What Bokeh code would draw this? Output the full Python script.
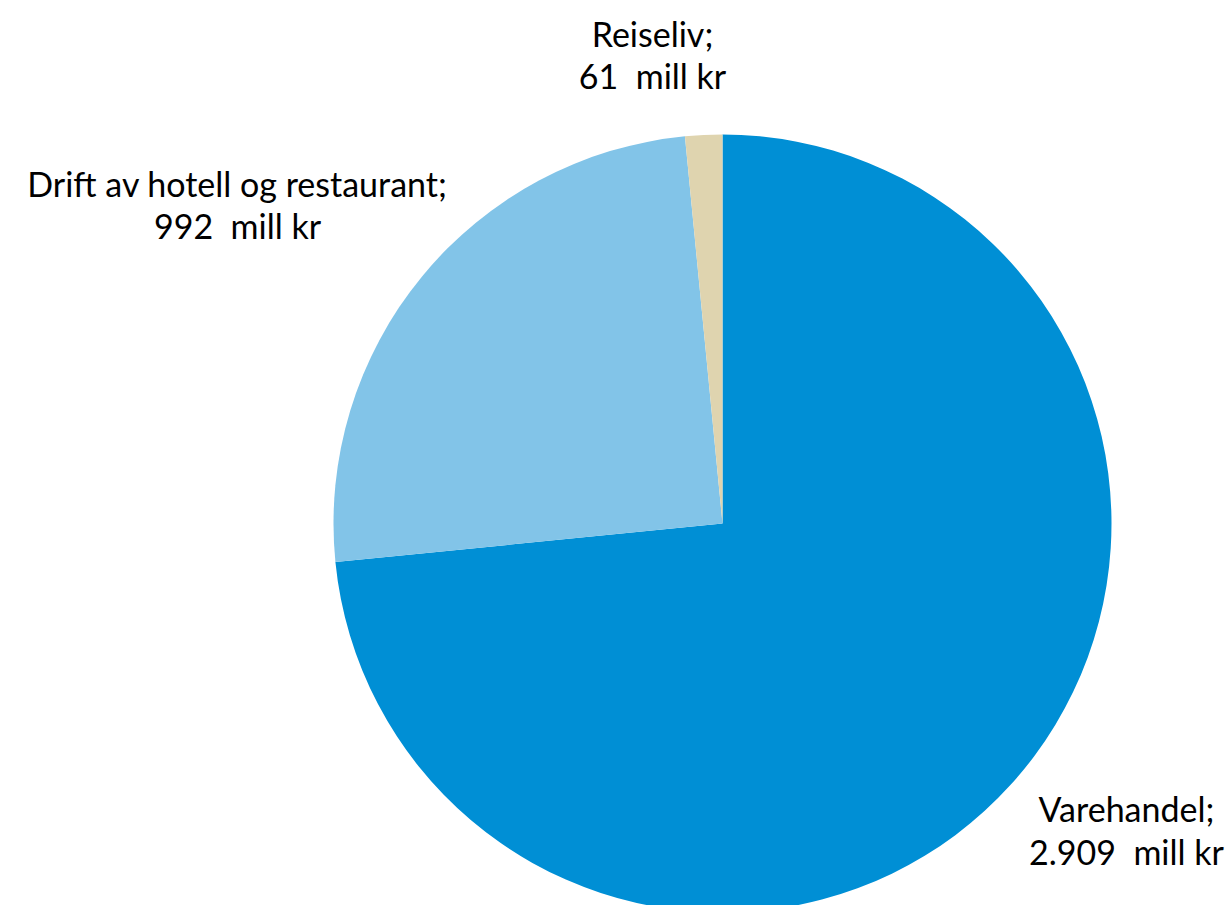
import math
from bokeh.plotting import figure
from bokeh.models import Range1d, ColumnDataSource
from bokeh.core.properties import value
from bokeh.embed import file_html
from bokeh.resources import INLINE

# Data
categories = ["Varehandel", "Drift av hotell og restaurant", "Reiseliv"]
values = [2909, 992, 61]
value_labels = ["2.909", "992", "61"]
colors = ["#008FD5", "#82C4E8", "#DFD4AF"]

W, H = 1232, 905
p = figure(width=W, height=H, output_backend="svg", toolbar_location=None,
           x_range=Range1d(0, W), y_range=Range1d(0, H), min_border=0)
p.axis.visible = False
p.grid.visible = False
p.outline_line_color = None
p.background_fill_color = "white"


def py(y_page):
    return H - y_page


def px(x_page):
    return x_page


cx, cy, r = px(722), py(523), 389

total = sum(values)
starts, ends = [], []
a = math.pi / 2
for v in values:
    starts.append(a)
    a = a - v / total * 2 * math.pi
    ends.append(a)

src = ColumnDataSource(dict(start=starts, end=ends, color=colors))
p.wedge(x=cx, y=cy, radius=r, start_angle="start", end_angle="end",
        direction="clock", fill_color="color", line_color=None, source=src)

# label positions (page pixels, centers of the two lines)
label_pos = [(1126, 808, 851), (237, 183, 225), (652, 33, 75)]
lx, ly, texts = [], [], []
for cat, vl, (x, y1, y2) in zip(categories, value_labels, label_pos):
    lx += [px(x), px(x)]
    ly += [py(y1), py(y2)]
    texts += [cat + ";", vl + "\u00a0 mill kr"]

p.text(x=lx, y=ly, text=texts, text_align="center", text_baseline="middle",
       text_font=value("Lato"), text_font_size="34px", text_color="#000000")

open("out.html", "w").write(file_html(p, INLINE))
